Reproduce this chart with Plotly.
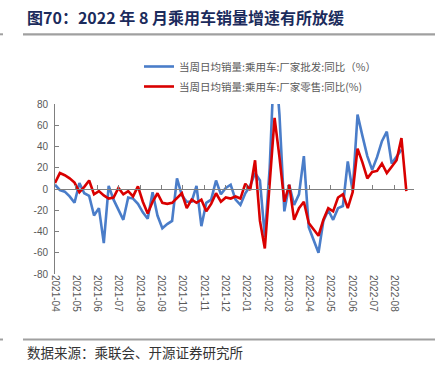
import pandas as pd
import plotly.graph_objects as go

weeks = pd.date_range("2021-04-01", periods=73, freq="7D")

wholesale_yoy = [4, -1, -2.5, -7, -13, 5.6, -4, -6.5, -25, -18,
                 -51, 3, -10, -20, -29, -8, -9, -14, -22, -28,
                 -3, -25, -37, -33, -30, 10, -6, -12, -12, 3,
                 -35, -13, -10, 8, -5, 1, 4, -10, -15, -4,
                 3, 15, 8, -45, 20, 130, 70, -21, 4, -15,
                 -5, 31, -36, -48, -60, -30, -20, -29, -18, -16,
                 26, -2, 70, 50, 31, 18, 30, 45, 54, 24,
                 30, 37, None]
retail_yoy = [5.6, 15, 13, 10, 6, -3, 2, 8, -5, -2,
              -6, -9, -8, 1, -5, -2, -7, 2.5, -12, -23,
              -12, -4, -13, -14, -13, -8, -4, -18, -10, -13,
              -10, -21, -14, -4, -12, -8, -9, -7, -9, 5,
              -1, 27, -30, -56, 5, 67, 30, -12, 4, -29,
              -18, -12, -32, -38, -44, -29, -18, -21, -8, -5,
              -18, -3, 38, 25, 10, 16, 17, 24, 15, 21,
              27, 48, -2]

month_ticks = pd.date_range("2021-04-01", "2022-08-01", freq="MS")
month_labels = [d.strftime("%Y-%m") for d in month_ticks]
y_ticks = [80, 60, 40, 20, 0, -20, -40, -60, -80]
y_labels = [str(v) for v in y_ticks]

name_wholesale = "当周日均销量:乘用车:厂家批发:同比（%）"
name_retail = "当周日均销量:乘用车:厂家零售:同比(%)"

fig = go.Figure()
fig.add_trace(go.Scatter(x=weeks, y=wholesale_yoy, mode="lines", name=name_wholesale,
                         line=dict(color="#4A7DC9", width=2.6), legendgroup="a",
                         connectgaps=False))
fig.add_trace(go.Scatter(x=weeks, y=retail_yoy, mode="lines", name=name_retail,
                         line=dict(color="#D90000", width=2.6), legendgroup="b"))
# dummy trace to show the zero-line axis with month tick marks
fig.add_trace(go.Scatter(x=[weeks[0]], y=[None], xaxis="x2", yaxis="y",
                         showlegend=False, hoverinfo="skip", mode="lines"))

tick_font = dict(family="Liberation Sans, Arial, sans-serif", size=10, color="#595959")

fig.update_layout(
    width=442, height=373,
    margin=dict(l=55, r=28, t=104, b=99),
    paper_bgcolor="white", plot_bgcolor="white",
    font=dict(family="Noto Sans CJK SC, sans-serif"),
    xaxis=dict(type="date", range=["2021-04-01", "2022-08-29"],
               tickvals=month_ticks, ticktext=month_labels, tickangle=90,
               showline=False, showgrid=False, zeroline=False, ticks="",
               tickfont=tick_font, automargin=False),
    xaxis2=dict(type="date", overlaying="x", matches="x", anchor="free", position=0.5,
                side="bottom", showline=True, linecolor="#7f7f7f", linewidth=1,
                tickvals=month_ticks, ticks="inside", ticklen=4, tickcolor="#7f7f7f",
                showticklabels=False, showgrid=False, zeroline=False),
    yaxis=dict(range=[-80, 80], tickvals=y_ticks, ticktext=y_labels, showgrid=False,
               zeroline=False, showline=True, linecolor="#7f7f7f", linewidth=1,
               ticks="inside", ticklen=4, tickcolor="#7f7f7f", tickfont=tick_font,
               ticklabelstandoff=4, automargin=False),
    legend=dict(x=(139 - 55) / 359, y=1 + (104 - 52) / 170, xanchor="left", yanchor="top",
                font=dict(family="Noto Sans CJK SC, sans-serif", size=10.5, color="#595959"),
                bgcolor="rgba(0,0,0,0)", itemwidth=30, tracegroupgap=1,
                traceorder="grouped"),
    showlegend=True,
)

fig.add_annotation(text="<b>图70：2022 年 8 月乘用车销量增速有所放缓</b>", xref="paper", yref="paper",
                   x=-30 / 359, y=1 + (104 - 17) / 170, xanchor="left", yanchor="middle",
                   showarrow=False,
                   font=dict(family="Noto Sans CJK SC, serif", size=16, color="#1B2B5C"))
fig.add_annotation(text="数据来源：乘联会、开源证券研究所", xref="paper", yref="paper",
                   x=-30 / 359, y=-(352 - 274) / 170, xanchor="left", yanchor="middle",
                   showarrow=False,
                   font=dict(family="Noto Sans CJK SC, sans-serif", size=13.5, color="#333333"))

for ypx in (34.3, 339.5):
    yp = 1 - (ypx - 104) / 170
    fig.add_shape(type="line", xref="paper", yref="paper",
                  x0=(23 - 55) / 359, x1=(435 - 55) / 359, y0=yp, y1=yp,
                  line=dict(color="#A0A0A0", width=2.2))
    fig.add_shape(type="line", xref="paper", yref="paper",
                  x0=(0 - 55) / 359, x1=(3 - 55) / 359, y0=yp, y1=yp,
                  line=dict(color="#A0A0A0", width=2))

fig.write_html("out.html", config={"displayModeBar": False},
               post_script="document.body.style.margin='0px';document.body.style.overflow='hidden';")
